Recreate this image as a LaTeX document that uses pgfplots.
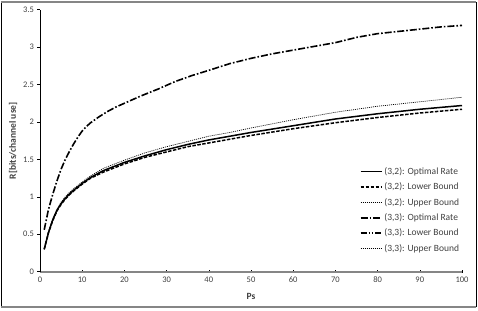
\documentclass[border=0pt]{standalone}
\usepackage{fontspec}
\setmainfont{Carlito}
\usepackage{pgfplots}
\usepackage{pgfplotstable}
\pgfplotsset{compat=1.18}
\definecolor{txt}{HTML}{404040}
\definecolor{axgray}{HTML}{868686}
\pgfplotstableread{
x O L U
1 0.30 0.30 0.30
2 0.52 0.52 0.53
3 0.69 0.68 0.70
4 0.82 0.81 0.83
5 0.91 0.90 0.93
6 0.98 0.97 1.00
7 1.04 1.03 1.06
8 1.09 1.08 1.11
10 1.18 1.17 1.20
12 1.26 1.25 1.28
15 1.35 1.33 1.38
20 1.46 1.44 1.49
25 1.55 1.53 1.59
30 1.63 1.60 1.67
35 1.70 1.67 1.74
40 1.76 1.72 1.81
45 1.81 1.77 1.86
50 1.86 1.82 1.92
60 1.95 1.91 2.03
70 2.04 1.99 2.13
80 2.11 2.06 2.21
90 2.17 2.12 2.27
100 2.22 2.17 2.33
}\tabA
\pgfplotstableread{
x O
1 0.56
2 0.83
3 1.03
4 1.21
5 1.37
6 1.50
7 1.61
8 1.71
9 1.80
10 1.88
11 1.94
12 1.99
14 2.07
16 2.14
18 2.20
20 2.25
24 2.35
28 2.44
32 2.54
36 2.62
40 2.69
45 2.78
50 2.85
55 2.91
60 2.96
65 3.01
70 3.06
75 3.13
80 3.18
85 3.21
90 3.24
95 3.27
100 3.29
}\tabB
\begin{document}
\begin{tikzpicture}
\begin{axis}[
  scale only axis,
  width=422pt, height=262pt,
  xmin=0, xmax=100, ymin=0, ymax=3.5,
  xtick={0,10,...,100},
  ytick={0,0.5,...,3.5},
  axis x line*=bottom, axis y line*=left,
  x axis line style={draw=axgray, line width=1.6pt, -},
  y axis line style={draw=black, line width=0.8pt, -},
  tick style={draw=black, line width=0.5pt},
  major tick length=2.5pt,
  xtick align=center, ytick align=outside,
  /pgf/number format/assume math mode=true,
  ticklabel style={font=\fontsize{8.5}{10}\selectfont, text=txt},
  yticklabel style={/pgf/number format/fixed},
  xlabel={\textbf{Ps}}, ylabel={\textbf{R[bits/channel use]}},
  label style={font=\fontsize{9.5}{11}\selectfont, text=txt},
  xlabel style={at={(axis description cs:0.5,-0.093)}, anchor=center},
  ylabel style={at={(axis description cs:-0.064,0.5)}, anchor=center},
  legend style={draw=none, fill=none, at={(axis description cs:0.755,0.41)}, anchor=north west,
    font=\fontsize{9.5}{10}\selectfont, text=txt, row sep=2.9pt, inner sep=1pt},
  legend cell align=left,
  legend image code/.code={\draw[#1] (0pt,0pt) -- (21pt,0pt);},
  every axis plot/.append style={line join=round},
]
\addplot[black, line width=1.5pt] table[x=x,y=O]{\tabA};
\addlegendentry{(3,2): Optimal Rate}
\addplot[black, line width=1.5pt, dash pattern=on 3.5pt off 1.5pt] table[x=x,y=L]{\tabA};
\addlegendentry{(3,2): Lower Bound}
\addplot[black, line width=0.7pt, dash pattern=on 1pt off 1pt] table[x=x,y=U]{\tabA};
\addlegendentry{(3,2): Upper Bound}
\addplot[black, line width=1.6pt, dash pattern=on 7pt off 2pt on 1.6pt off 2pt] table[x=x,y=O]{\tabB};
\addlegendentry{(3,3): Optimal Rate}
\addlegendimage{black, line width=1.3pt, dash pattern=on 6pt off 2pt on 1.3pt off 2pt on 1.3pt off 2pt}
\addlegendentry{(3,3): Lower Bound}
\addlegendimage{black, line width=1.2pt, dash pattern=on 1.1pt off 0.9pt}
\addlegendentry{(3,3): Upper Bound}
\end{axis}
\draw[black, line width=0.8pt] (-39pt,-35.3pt) -- (-39pt,269.7pt);
\draw[black, line width=0.8pt] (436pt,-35.3pt) -- (436pt,269.7pt);
\draw[axgray, line width=1.8pt] (-39.4pt,269.7pt) -- (436.4pt,269.7pt);
\draw[axgray, line width=1.8pt] (-39.4pt,-35.3pt) -- (436.4pt,-35.3pt);
\pgfresetboundingbox
\useasboundingbox (-40pt,-38.3pt) rectangle (438pt,271.7pt);
\end{tikzpicture}
\end{document}
